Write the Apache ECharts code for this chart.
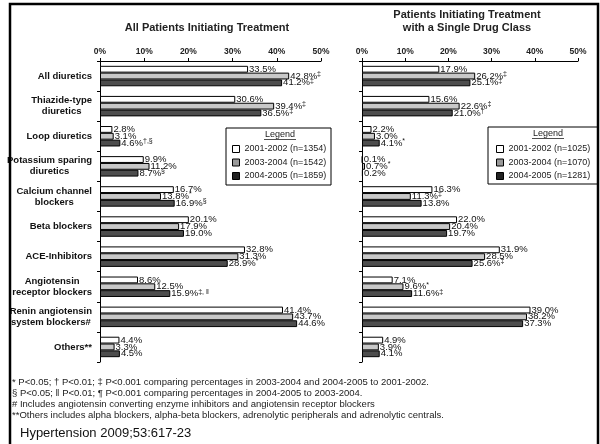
<!DOCTYPE html>
<html>
<head>
<meta charset="utf-8">
<script src="https://cdn.jsdelivr.net/npm/echarts@6/dist/echarts.min.js"></script>
<style>
  html, body { margin: 0; padding: 0; background: #fff; }
  #chart { width: 600px; height: 444px; }
</style>
</head>
<body>
<div id="chart"></div>
<script>
// Drug classes (top to bottom)
const categories = [
  'All diuretics',
  'Thiazide-type\ndiuretics',
  'Loop diuretics',
  'Potassium sparing\ndiuretics',
  'Calcium channel\nblockers',
  'Beta blockers',
  'ACE-Inhibitors',
  'Angiotensin\nreceptor blockers',
  'Renin angiotensin\nsystem blockers#',
  'Others**'
];

// All patients initiating treatment (%)
const all2001 = [33.5, 30.6, 2.8, 9.9, 16.7, 20.1, 32.8, 8.6, 41.4, 4.4];
const all2003 = [42.8, 39.4, 3.1, 11.2, 13.8, 17.9, 31.3, 12.5, 43.7, 3.3];
const all2004 = [41.2, 36.5, 4.6, 8.7, 16.9, 19.0, 28.9, 15.9, 44.6, 4.5];
const all2001Marks = ['', '', '', '', '', '', '', '', '', ''];
const all2003Marks = ['‡', '‡', '', '', '*', '', '', '', '', ''];
const all2004Marks = ['‡', '‡', '†,§', '§', '§', '', '*', '‡, ‖', '', ''];

// Patients initiating treatment with a single drug class (%)
const single2001 = [17.9, 15.6, 2.2, 0.1, 16.3, 22.0, 31.9, 7.1, 39.0, 4.9];
const single2003 = [26.2, 22.6, 3.0, 0.7, 11.3, 20.4, 28.5, 9.6, 38.2, 3.9];
const single2004 = [25.1, 21.0, 4.1, 0.2, 13.8, 19.7, 25.6, 11.6, 37.3, 4.1];
const single2001Marks = ['', '', '', '', '', '', '', '', '', ''];
const single2003Marks = ['‡', '‡', '', '*', '‡', '', '', '*', '', ''];
const single2004Marks = ['‡', '†', '*', '', '', '', '‡', '‡', '', ''];

// Legend entries
const allNames = ['2001-2002 (n=1354)', '2003-2004 (n=1542)', '2004-2005 (n=1859)'];
const singleNames = ['2001-2002 (n=1025)', '2003-2004 (n=1070)', '2004-2005 (n=1281)'];

const xTicks = { min: 0, max: 50, interval: 10 };

const footnotes = [
  '* P<0.05; † P<0.01; ‡ P<0.001 comparing percentages in 2003-2004 and 2004-2005 to 2001-2002.',
  '§ P<0.05; ‖ P<0.01; ¶ P<0.001 comparing percentages in 2004-2005 to 2003-2004.',
  '# Includes angiotensin converting enzyme inhibitors and angiotensin receptor blockers',
  '**Others includes alpha blockers, alpha-beta blockers, adrenolytic peripherals and adrenolytic centrals.'
];
const citation = 'Hypertension 2009;53:617-23';

const FONT = '"Liberation Sans", Arial, Helvetica, sans-serif';
const fills = ['#ffffff', '#c8c8c8', '#4d4d4d'];
const legendFills = ['#ffffff', '#999999', '#222222'];

function xAxisFor(gridIndex) {
  return {
    type: 'value', gridIndex, position: 'top',
    min: xTicks.min, max: xTicks.max, interval: xTicks.interval,
    splitLine: { show: false },
    axisLine: { show: true, lineStyle: { color: '#000', width: 1 } },
    axisTick: { show: true, length: 3, lineStyle: { color: '#000' } },
    axisLabel: {
      formatter: '{value}%', margin: 5, color: '#222',
      fontFamily: FONT, fontSize: 8.5, fontWeight: 'bold'
    }
  };
}

function yAxisFor(gridIndex, showLabels) {
  return {
    type: 'category', gridIndex, inverse: true, data: categories,
    axisLine: { show: true, lineStyle: { color: '#000', width: 1 } },
    axisTick: { show: true, length: 3, lineStyle: { color: '#000' } },
    axisLabel: {
      show: showLabels, margin: 8,
      formatter: v => '{c|' + v + '}',
      rich: {
        c: {
          align: 'center', fontFamily: FONT, fontSize: 9.5, fontWeight: 'bold',
          color: '#111', lineHeight: 11
        }
      }
    }
  };
}

function barSeries(name, values, marks, idx, axisIndex) {
  return {
    type: 'bar', name, xAxisIndex: axisIndex, yAxisIndex: axisIndex,
    data: values,
    barGap: '0%', barCategoryGap: '32%',
    itemStyle: { color: fills[idx], borderColor: '#000', borderWidth: 1 },
    label: {
      show: true, position: 'right', distance: 1,
      formatter: p => '{v|' + p.value.toFixed(1) + '%}' +
        (marks[p.dataIndex] ? '{m|' + marks[p.dataIndex] + '}' : ''),
      rich: {
        v: { fontFamily: FONT, fontSize: 9.5, color: '#111', lineHeight: 11 },
        m: { fontFamily: FONT, fontSize: 7, color: '#111', verticalAlign: 'top', lineHeight: 8 }
      }
    },
    emphasis: { disabled: true },
    animation: false
  };
}

function legendFor(names, left) {
  return {
    orient: 'vertical', left, top: 144, padding: 0,
    itemWidth: 7, itemHeight: 7, itemGap: 3.5,
    icon: 'rect', selectedMode: false,
    data: names.map((n, i) => ({
      name: n,
      itemStyle: { color: legendFills[i], borderColor: '#000', borderWidth: 1 }
    })),
    textStyle: { fontFamily: FONT, fontSize: 9, color: '#222', lineHeight: 10 }
  };
}

function legendBox(x, y, w, h, cx) {
  return [
    { type: 'rect', shape: { x, y, width: w, height: h },
      style: { fill: '#fff', stroke: '#000', lineWidth: 1 }, z: 1 },
    { type: 'text', x: cx, y: y + 7, z: 2,
      style: { text: 'Legend', align: 'center', verticalAlign: 'middle',
        font: '9px ' + FONT, fill: '#222' } },
    { type: 'line', shape: { x1: cx - 16, y1: y + 11.5, x2: cx + 16, y2: y + 11.5 },
      style: { stroke: '#222', lineWidth: 0.8 }, z: 2 }
  ];
}

const graphics = [
  // outer frame
  { type: 'rect', shape: { x: 10, y: 4, width: 588, height: 500 },
    style: { fill: 'none', stroke: '#000', lineWidth: 2.5 }, z: 10 },
  // panel titles
  { type: 'text', x: 207, y: 28,
    style: { text: 'All Patients Initiating Treatment', align: 'center', verticalAlign: 'middle',
      font: 'bold 11px ' + FONT, fill: '#222' } },
  { type: 'text', x: 467, y: 21.5,
    style: { text: 'Patients Initiating Treatment\nwith a Single Drug Class', align: 'center',
      verticalAlign: 'middle', lineHeight: 13, font: 'bold 11px ' + FONT, fill: '#222' } },
  ...legendBox(226, 128, 105, 57, 280),
  ...legendBox(488, 127, 110, 57, 548),
  ...footnotes.map((t, i) => ({
    type: 'text', x: 12, y: 382 + i * 11,
    style: { text: t, verticalAlign: 'middle', font: '9.5px ' + FONT, fill: '#222' }
  })),
  { type: 'text', x: 20, y: 433,
    style: { text: citation, verticalAlign: 'middle', font: '13px ' + FONT, fill: '#111' } }
];

const chart = echarts.init(document.getElementById('chart'), null, { renderer: 'canvas' });
chart.setOption({
  animation: false,
  backgroundColor: '#fff',
  grid: [
    { left: 100, top: 61, width: 221, height: 301 },
    { left: 362, top: 61, width: 216, height: 301 }
  ],
  xAxis: [xAxisFor(0), xAxisFor(1)],
  yAxis: [yAxisFor(0, true), yAxisFor(1, false)],
  legend: [legendFor(allNames, 232), legendFor(singleNames, 496)],
  series: [
    barSeries(allNames[0], all2001, all2001Marks, 0, 0),
    barSeries(allNames[1], all2003, all2003Marks, 1, 0),
    barSeries(allNames[2], all2004, all2004Marks, 2, 0),
    barSeries(singleNames[0], single2001, single2001Marks, 0, 1),
    barSeries(singleNames[1], single2003, single2003Marks, 1, 1),
    barSeries(singleNames[2], single2004, single2004Marks, 2, 1)
  ],
  graphic: graphics
});
</script>
</body>
</html>
